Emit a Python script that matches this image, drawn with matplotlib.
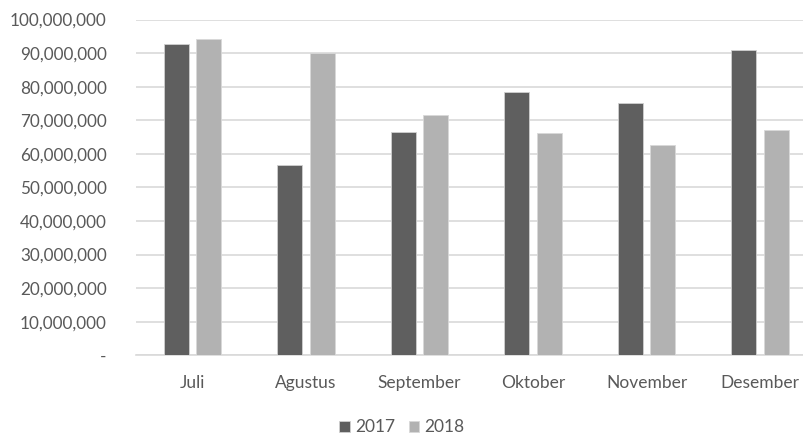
import numpy as np
import matplotlib.pyplot as plt
import matplotlib as mpl
from matplotlib.ticker import FuncFormatter, MultipleLocator

mpl.rcParams['font.family'] = ['Lato', 'DejaVu Sans']

# Data
months = ['Juli', 'Agustus', 'September', 'Oktober', 'November', 'Desember']
values_2017 = [92.6e6, 56.8e6, 66.4e6, 78.4e6, 75.1e6, 91.0e6]
values_2018 = [94.1e6, 90.1e6, 71.5e6, 66.1e6, 62.6e6, 67.1e6]

text_color = '#595959'
dark = '#5f5f5f'
light = '#b2b2b2'

fig = plt.figure(figsize=(8.04, 4.36), dpi=100)
ax = fig.add_axes([0.169, 0.185, 0.847, 0.770])

x = np.arange(len(months))
w = 0.22
off = 0.143
ax.bar(x - off, values_2017, w, color=dark, edgecolor='#d0d0d0', linewidth=0.6, label='2017', zorder=3)
ax.bar(x + off, values_2018, w, color=light, edgecolor='#d8d8d8', linewidth=0.6, label='2018', zorder=3)

ax.set_xlim(-0.5, len(months) - 0.5)
ax.set_ylim(0, 100e6)
ax.yaxis.set_major_locator(MultipleLocator(10e6))
ax.yaxis.set_major_formatter(FuncFormatter(lambda v, p: '-' if v == 0 else f'{v:,.0f}'))
ax.set_xticks(x)
ax.set_xticklabels(months)

ax.grid(axis='y', color='#d9d9d9', linewidth=1.2, zorder=0)
for s in ['top', 'right', 'left']:
    ax.spines[s].set_visible(False)
ax.spines['bottom'].set_color('#d9d9d9')
ax.spines['bottom'].set_linewidth(1.2)

ax.tick_params(axis='both', length=0, labelsize=12.5, colors=text_color)
ax.tick_params(axis='y', pad=21, labelsize=12.3)
ax.tick_params(axis='x', pad=14)

fig.legend(loc='center', bbox_to_anchor=(0.5, 0.02), ncol=2, frameon=False,
           fontsize=12.5, labelcolor=text_color, handlelength=0.6, handleheight=0.6,
           handletextpad=0.3, columnspacing=0.8)

fig.savefig('out.png', dpi=100)
